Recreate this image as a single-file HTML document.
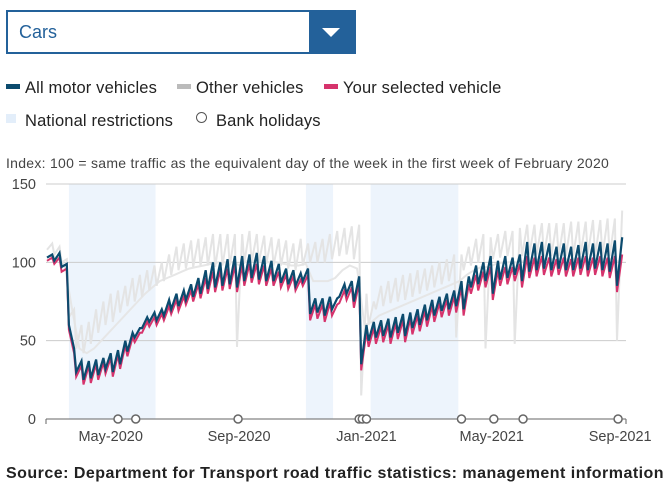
<!DOCTYPE html>
<html><head><meta charset="utf-8"><style>
body{margin:0;width:670px;height:495px;background:#fff;font-family:"Liberation Sans",sans-serif;color:#222;position:relative;overflow:hidden}
.abs{position:absolute}
.dd{left:6px;top:10px;width:346px;height:40px;border:2px solid #23619a;background:#fff}
.dd span{position:absolute;left:11px;top:10px;font-size:18px;color:#23619a}
.ddb{position:absolute;right:0;top:0;width:45px;height:40px;background:#23619a}
.ddb:after{content:"";position:absolute;left:13px;top:16px;border-left:9px solid transparent;border-right:9px solid transparent;border-top:9px solid #fff}
.lg{font-size:16.5px;top:79px;white-space:nowrap;letter-spacing:0.15px}
.sw{display:inline-block;width:14px;height:5px;vertical-align:middle;margin-right:5px;position:relative;top:-2px}
</style></head><body>
<div class="abs dd"><span>Cars</span><div class="ddb"></div></div>
<div class="abs lg" style="left:6px"><i class="sw" style="background:#0c4b6e"></i>All motor vehicles</div>
<div class="abs lg" style="left:177px"><i class="sw" style="background:#bbb"></i>Other vehicles</div>
<div class="abs lg" style="left:324px"><i class="sw" style="background:#d6336c"></i>Your selected vehicle</div>
<div class="abs lg" style="left:6px;top:112px"><i class="sw" style="background:#e3eefa;height:9px;width:10px;top:-3px;margin-right:9px"></i>National restrictions</div>
<div class="abs lg" style="left:196px;top:112px"><i class="sw" style="width:9px;height:9px;border:1px solid #555;border-radius:50%;top:-4px;margin-right:9px"></i>Bank holidays</div>
<div class="abs" style="left:6px;top:155px;font-size:14px;letter-spacing:0.28px;color:#444;white-space:nowrap">Index: 100 = same traffic as the equivalent day of the week in the first week of February 2020</div>
<svg class="abs" style="left:0;top:0" width="670" height="495" id="chart"></svg>
<div class="abs" style="left:6px;top:465px;font-size:16px;letter-spacing:0.48px;font-weight:bold;color:#222;white-space:nowrap">Source: Department for Transport road traffic statistics: management information</div>
<script>
// Weekly data starting Sunday 1 Mar 2020: low (Sunday) and peak (Friday)
const allLow=[103,101,97,60,30,25,26,28,32,30,35,43,52,58,62,63,66,70,72,76,78,80,83,84,85,86,84,88,90,89,88,88,87,86,85,88,67,68,66,70,78,80,75,35,50,52,53,52,55,53,58,60,63,66,69,70,72,70,84,86,88,80,89,90,92,88,94,95,96,95,96,95,95,96,95,96,95,94,85];
const allHigh=[105,106,99,45,37,37,38,39,42,44,50,55,58,65,68,70,76,80,82,86,90,95,100,100,102,104,104,105,106,104,101,99,96,95,93,96,77,77,78,77,86,88,91,60,62,63,64,65,67,68,70,73,76,78,80,82,88,91,98,100,104,101,104,103,105,113,112,113,112,110,112,110,111,113,112,113,112,114,116];
const selLow=[101,99,94,57,27,22,23,25,29,27,32,40,49,55,59,60,63,67,69,73,75,77,80,81,82,83,81,85,87,86,85,85,84,83,82,85,63,64,62,66,74,76,71,31,46,48,49,48,51,49,54,56,59,62,65,66,68,66,80,82,84,76,85,86,88,84,90,91,92,91,92,91,91,92,91,92,91,90,81];
const selHigh=[103,103,96,42,34,34,35,36,39,41,47,52,55,62,65,67,72,76,78,82,86,90,94,95,96,98,98,99,99,98,96,94,92,91,89,92,73,73,74,73,82,84,87,56,58,59,60,61,63,64,66,69,72,74,76,78,84,86,92,94,97,95,97,97,99,104,103,104,103,102,103,102,103,104,103,104,103,104,105];
const othLow=[108,105,100,65,45,42,48,55,60,62,68,72,75,78,82,85,88,92,95,96,97,98,98,97,98,98,46,100,100,100,99,98,98,96,95,98,100,100,100,102,104,105,102,15,60,70,72,74,75,76,78,80,82,84,86,88,52,95,98,100,45,102,103,104,48,104,105,105,104,104,104,104,104,105,105,104,104,104,50];
const othHigh=[112,110,102,70,60,62,70,75,80,82,85,90,92,95,98,100,105,110,112,114,115,116,118,118,118,118,118,120,118,117,116,115,114,112,115,112,113,115,118,120,122,123,124,80,75,85,88,90,92,93,95,96,98,100,102,105,105,110,115,118,116,118,120,120,122,124,124,125,125,125,125,126,126,126,127,127,128,128,133];
const hgv=[104,103,98,70,45,42,45,50,55,60,65,70,75,80,84,88,90,92,94,96,97,98,99,100,100,100,98,101,101,101,100,100,99,98,98,99,88,88,88,90,95,98,96,60,62,66,68,70,72,74,76,78,80,82,84,86,88,92,95,97,97,99,100,100,100,101,101,102,102,102,102,102,102,102,102,102,102,102,100];
const restrictions=[[21,104],[248,274],[310,394]];
const bankHolidays=[68,85,183,299,302,306,397,428,456,547];
const yTicks=[0,50,100,150];
const xTickLabels=["May-2020","Sep-2020","Jan-2021","May-2021","Sep-2021"];
const xTickDays=[61,184,306,426,549];

const svg=document.getElementById('chart');
const NS='http://www.w3.org/2000/svg';
const X0=47,KX=1.044,Y0=419,KY=235/150;
const x=d=>X0+d*KX, y=v=>Y0-v*KY;
function el(t,a,p){const e=document.createElementNS(NS,t);for(const k in a)e.setAttribute(k,a[k]);(p||svg).appendChild(e);return e;}
restrictions.forEach(r=>{const e=el('rect',{x:x(r[0]),y:y(150),width:x(r[1])-x(r[0]),height:Y0-y(150),fill:'#edf4fc'});

});
yTicks.forEach(t=>{if(t>0){const g=el('line',{x1:46,x2:626,y1:y(t),y2:y(t),stroke:'#ccc','stroke-width':1});

}
const tx=el('text',{x:36,y:y(t)+5,'text-anchor':'end','font-size':14.5,fill:'#444','font-family':'Liberation Sans'});tx.textContent=t;

});
function pts(lo,hi){const p=[];lo.forEach((v,i)=>{p.push([x(i*7),y(v)]);p.push([x(i*7+5),y(hi[i])]);});return p.map(q=>q[0].toFixed(1)+','+q[1].toFixed(1)).join(' ');}
const hg=el('polyline',{points:hgv.map((v,i)=>x(i*7+3).toFixed(1)+','+y(v).toFixed(1)).join(' '),fill:'none',stroke:'#e6e6e6','stroke-width':2});


const o=el('polyline',{points:pts(othLow,othHigh),fill:'none',stroke:'#e4e4e4','stroke-width':2});


const s=el('polyline',{points:pts(selLow,selHigh),fill:'none',stroke:'#d6336c','stroke-width':2});


const a=el('polyline',{points:pts(allLow,allHigh),fill:'none',stroke:'#0c4b6e','stroke-width':2.2});


const ax=el('line',{x1:46,x2:626,y1:Y0,y2:Y0,stroke:'#666','stroke-width':1});


[46,626].forEach(px=>{const t=el('line',{x1:px,x2:px,y1:Y0,y2:Y0+5,stroke:'#666'});

});
xTickLabels.forEach((l,i)=>{const t=el('text',{x:Math.min(x(xTickDays[i]),626),y:441,'text-anchor':'middle','font-size':14.5,fill:'#444','font-family':'Liberation Sans'});t.textContent=l;

});
bankHolidays.forEach(d=>{const c=el('circle',{cx:x(d),cy:Y0,r:4,fill:'#fff',stroke:'#666','stroke-width':1.5});

});
</script>
</body></html>
